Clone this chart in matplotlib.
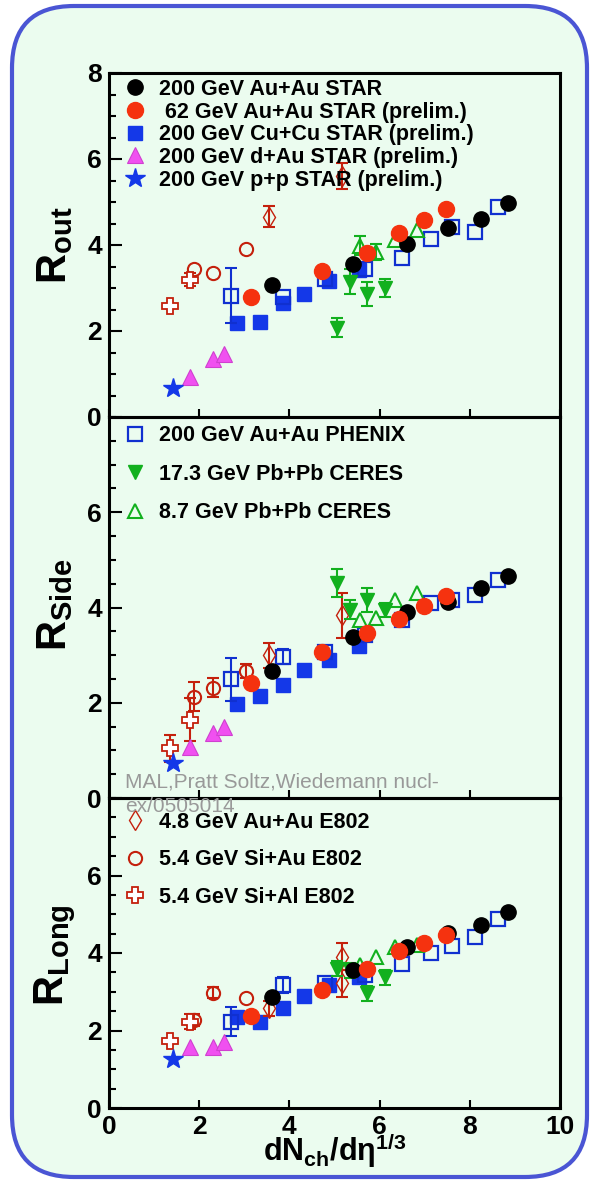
import numpy as np
import matplotlib
matplotlib.use('Agg')
import matplotlib.pyplot as plt
from matplotlib.patches import FancyBboxPatch
from matplotlib.transforms import IdentityTransform
from matplotlib.ticker import MultipleLocator

plt.rcParams['font.family'] = ['Liberation Sans', 'DejaVu Sans']
plt.rcParams['font.weight'] = 'bold'
plt.rcParams['mathtext.fontset'] = 'custom'
plt.rcParams['mathtext.rm'] = 'Liberation Sans'
plt.rcParams['mathtext.bf'] = 'Liberation Sans:bold'
plt.rcParams['mathtext.it'] = 'Liberation Sans:italic'

# HBT radii vs (dN/deta)^(1/3), one array per system and projection
auau200_x = [3.61, 5.42, 6.61, 7.51, 8.25, 8.84]
auau200_out = [3.06, 3.56, 4.02, 4.39, 4.60, 4.98]
auau200_side = [2.67, 3.39, 3.91, 4.12, 4.41, 4.66]
auau200_long = [2.87, 3.56, 4.16, 4.51, 4.72, 5.05]

auau62_x = [3.14, 4.72, 5.71, 6.43, 6.98, 7.47]
auau62_out = [2.80, 3.40, 3.81, 4.27, 4.58, 4.83]
auau62_side = [2.41, 3.07, 3.46, 3.75, 4.03, 4.24]
auau62_long = [2.37, 3.05, 3.58, 4.06, 4.25, 4.46]

cucu_x = [2.83, 3.35, 3.85, 4.32, 4.88, 5.55]
cucu_out = [2.18, 2.22, 2.64, 2.85, 3.16, 3.42]
cucu_side = [1.97, 2.14, 2.37, 2.69, 2.90, 3.19]
cucu_long = [2.36, 2.23, 2.57, 2.89, 3.17, 3.39]

dau_x = [1.80, 2.31, 2.55]
dau_out = [0.94, 1.35, 1.46]
dau_side = [1.08, 1.36, 1.50]
dau_long = [1.58, 1.58, 1.71]

pp_x = [1.41]
pp_out = [0.68]
pp_side = [0.74]
pp_long = [1.26]

phenix_x = [2.70, 3.85, 4.80, 5.68, 6.50, 7.14, 7.60, 8.12, 8.63]
phenix_out = [2.82, 2.80, 3.22, 3.44, 3.70, 4.14, 4.43, 4.31, 4.89]
phenix_side = [2.49, 2.97, 3.07, 3.42, 3.74, 4.09, 4.16, 4.26, 4.58]
phenix_long = [2.23, 3.17, 3.22, 3.43, 3.71, 4.01, 4.18, 4.41, 4.87]
phenix_out_err = [0.64, 0, 0, 0, 0, 0, 0, 0, 0]
phenix_side_err = [0.46, 0.15, 0, 0, 0, 0, 0, 0, 0]
phenix_long_err = [0.38, 0.20, 0, 0, 0, 0, 0, 0, 0]

ceres17_x = [5.05, 5.34, 5.71, 6.13]
ceres17_out = [2.08, 3.15, 2.85, 3.00]
ceres17_side = [4.51, 3.95, 4.16, 3.95]
ceres17_long = [3.60, 3.55, 2.96, 3.37]
ceres17_out_err = [0.22, 0.30, 0.28, 0.22]
ceres17_side_err = [0.30, 0.20, 0.25, 0.15]
ceres17_long_err = [0.20, 0.20, 0.20, 0.20]

ceres8_x = [5.57, 5.91, 6.35, 6.82]
ceres8_out = [3.98, 3.84, 4.12, 4.35]
ceres8_side = [3.74, 3.77, 4.16, 4.30]
ceres8_long = [3.70, 3.90, 4.16, 4.21]
ceres8_out_err = [0.22, 0.18, 0, 0]
ceres8_side_err = [0, 0, 0, 0]
ceres8_long_err = [0, 0, 0, 0]

e802_auau_x = [3.55, 5.16, 5.16]
e802_auau_out = [4.66, 5.60, np.nan]
e802_auau_side = [3.00, 3.84, np.nan]
e802_auau_long = [2.57, 3.90, 3.22]
e802_auau_out_err = [0.25, 0.30, 0]
e802_auau_side_err = [0.26, 0.47, 0]
e802_auau_long_err = [0.20, 0.35, 0.35]

siau_x = [1.88, 2.31, 3.03]
siau_out = [3.44, 3.36, 3.90]
siau_side = [2.13, 2.32, 2.67]
siau_long = [2.27, 2.98, 2.83]
siau_out_err = [0, 0, 0]
siau_side_err = [0.30, 0.20, 0.15]
siau_long_err = [0.15, 0.15, 0]

sial_x = [1.35, 1.80]
sial_out = [2.59, 3.19]
sial_side = [1.04, 1.64]
sial_long = [1.73, 2.23]
sial_out_err = [0, 0.15]
sial_side_err = [0.29, 0.45]
sial_long_err = [0, 0.20]

labels_star = ['200 GeV Au+Au STAR', ' 62 GeV Au+Au STAR (prelim.)',
               '200 GeV Cu+Cu STAR (prelim.)', '200 GeV d+Au STAR (prelim.)',
               '200 GeV p+p STAR (prelim.)']
labels_sps = ['200 GeV Au+Au PHENIX', '17.3 GeV Pb+Pb CERES', '8.7 GeV Pb+Pb CERES']
labels_ags = ['4.8 GeV Au+Au E802', '5.4 GeV Si+Au E802', '5.4 GeV Si+Al E802']

bg = '#ebfcef'
red = '#f5320f'
blue = '#1438e8'
green = '#12b01e'
dred = '#c4200c'

# series: x, (out, side, long), (err out, err side, err long), style
zero = lambda n: [0] * n
series = [
    (cucu_x, (cucu_out, cucu_side, cucu_long), (zero(6), zero(6), zero(6)),
     dict(marker='s', ms=9.5, mfc=blue, mec=blue, zorder=3)),
    (phenix_x, (phenix_out, phenix_side, phenix_long),
     (phenix_out_err, phenix_side_err, phenix_long_err),
     dict(marker='s', ms=9.5, mfc='none', mec='#1030d0', mew=1.6, zorder=4)),
    (e802_auau_x, (e802_auau_out, e802_auau_side, e802_auau_long),
     (e802_auau_out_err, e802_auau_side_err, e802_auau_long_err),
     dict(marker='d', ms=10, mfc='none', mec=dred, mew=1.0, zorder=4)),
    (siau_x, (siau_out, siau_side, siau_long), (siau_out_err, siau_side_err, siau_long_err),
     dict(marker='o', ms=9.5, mfc='none', mec=dred, mew=1.5, zorder=4)),
    (sial_x, (sial_out, sial_side, sial_long), (sial_out_err, sial_side_err, sial_long_err),
     dict(marker='P', ms=11, mfc='white', mec=dred, mew=1.3, zorder=4)),
    (ceres8_x, (ceres8_out, ceres8_side, ceres8_long),
     (ceres8_out_err, ceres8_side_err, ceres8_long_err),
     dict(marker='^', ms=10, mfc='none', mec=green, mew=1.5, zorder=5)),
    (ceres17_x, (ceres17_out, ceres17_side, ceres17_long),
     (ceres17_out_err, ceres17_side_err, ceres17_long_err),
     dict(marker='v', ms=10, mfc=green, mec=green, zorder=5)),
    (auau200_x, (auau200_out, auau200_side, auau200_long), (zero(6), zero(6), zero(6)),
     dict(marker='o', ms=11, mfc='black', mec='black', zorder=6)),
    (auau62_x, (auau62_out, auau62_side, auau62_long), (zero(6), zero(6), zero(6)),
     dict(marker='o', ms=11.5, mfc=red, mec=red, zorder=7)),
    (dau_x, (dau_out, dau_side, dau_long), (zero(3), zero(3), zero(3)),
     dict(marker='^', ms=11, mfc='#f050f0', mec='#d040d0', mew=0.8, zorder=6)),
    (pp_x, (pp_out, pp_side, pp_long), (zero(1), zero(1), zero(1)),
     dict(marker='*', ms=15, mfc=blue, mec=blue, zorder=6)),
]

fig = plt.figure(figsize=(5.98, 11.83), dpi=100, facecolor='white')
frame = FancyBboxPatch((12, 6), 575, 1171, boxstyle='round,pad=0,rounding_size=62',
                       transform=IdentityTransform(), fc=bg, ec='#4a55d4', lw=3, zorder=-5)
fig.patches.append(frame)

L, W = 109 / 598, 451 / 598
ax_out = fig.add_axes([L, 1 - 417 / 1183, W, 344 / 1183], facecolor='none')
ax_side = fig.add_axes([L, 1 - 798 / 1183, W, 381 / 1183], facecolor='none')
ax_long = fig.add_axes([L, 1 - 1108 / 1183, W, 310 / 1183], facecolor='none')
axes = [ax_out, ax_side, ax_long]

handles = []
for k, ax in enumerate(axes):
    hs = []
    for x, ys, errs, st in series:
        x = np.asarray(x, float)
        y = np.asarray(ys[k], float)
        e = np.asarray(errs[k], float)
        col = st['mec']
        m = e > 0
        if m.any():
            ax.errorbar(x[m], y[m], yerr=e[m], fmt='none', ecolor=col, elinewidth=1.5,
                        capsize=4, capthick=1.5, zorder=st['zorder'] - 0.5)
        h, = ax.plot(x, y, ls='none', **st)
        hs.append(h)
    handles.append(hs)

    ax.set_xlim(0, 10)
    ax.set_ylim(0, 8)
    ax.set_xticks([0, 2, 4, 6, 8, 10])
    ax.set_yticks([0, 2, 4, 6, 8] if k == 0 else [0, 2, 4, 6])
    ax.yaxis.set_minor_locator(MultipleLocator(0.5))
    ax.tick_params(axis='y', which='major', direction='in', length=9, width=1.5,
                   labelsize=19, pad=5)
    ax.tick_params(axis='y', which='minor', direction='in', length=5, width=1.5)
    ax.tick_params(axis='x', which='major', direction='in', length=6, width=1.5,
                   labelsize=19, pad=5, labelbottom=(k == 2))
    for s in ax.spines.values():
        s.set_linewidth(2.2)

# legends split over the three panels
leg_kw = dict(loc='upper left', frameon=False, fontsize=15.5, handlelength=1.2,
              handletextpad=0.5, borderaxespad=0, borderpad=0)
star_h = [handles[0][i] for i in (7, 8, 0, 9, 10)]
ax_out.legend(star_h, labels_star, bbox_to_anchor=(0.029, 0.983),
              labelspacing=0.08, **leg_kw)
sps_h = [handles[1][i] for i in (1, 6, 5)]
ax_side.legend(sps_h, labels_sps, bbox_to_anchor=(0.029, 0.978),
               labelspacing=0.81, **leg_kw)
ags_h = [handles[2][i] for i in (2, 3, 4)]
ax_long.legend(ags_h, labels_ags, bbox_to_anchor=(0.029, 0.955),
               labelspacing=0.76, **leg_kw)

fig.text(55 / 598, 1 - 245 / 1183, r'$\mathbf{R}_{\mathbf{out}}$', rotation=90,
         ha='center', va='center', fontsize=30)
fig.text(55 / 598, 1 - 605 / 1183, r'$\mathbf{R}_{\mathbf{Side}}$', rotation=90,
         ha='center', va='center', fontsize=30)
fig.text(55 / 598, 1 - 955 / 1183, r'$\mathbf{R}_{\mathbf{Long}}$', rotation=90,
         ha='center', va='center', fontsize=30)
fig.text(335 / 598, 1 - 1150 / 1183, r'$\mathbf{dN_{ch}/d\eta^{1/3}}$',
         ha='center', va='center', fontsize=22)

fig.text(125 / 598, 1 - 788 / 1183, 'MAL,Pratt Soltz,Wiedemann nucl-',
         color='#999999', fontsize=15, fontweight='normal', va='baseline', zorder=10)
fig.text(125 / 598, 1 - 812 / 1183, 'ex/0505014',
         color='#999999', fontsize=15, fontweight='normal', va='baseline', zorder=10)

fig.savefig('out.png', dpi=100, facecolor='white')
